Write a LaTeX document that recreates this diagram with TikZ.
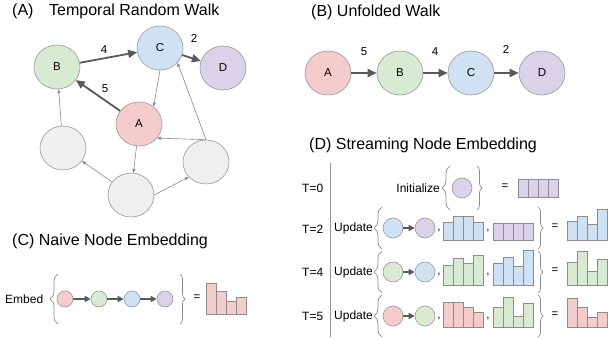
\documentclass[tikz,border=0pt]{standalone}
\usepackage{fontspec}
\setmainfont{Liberation Sans}
\usetikzlibrary{arrows.meta,shapes.geometric,decorations.pathreplacing}
\definecolor{pinkF}{HTML}{F4CCCC}
\definecolor{greenF}{HTML}{D9EAD3}
\definecolor{blueF}{HTML}{CFE2F3}
\definecolor{purpF}{HTML}{D9D2E9}
\definecolor{grayF}{HTML}{EFEFEF}
\definecolor{ndraw}{HTML}{999999}
\definecolor{arrowC}{HTML}{595959}
\definecolor{thinC}{HTML}{8A8A8A}
\definecolor{barD}{HTML}{8C8C8C}
\newcommand{\barset}[4]{%
  \foreach \h [count=\i from 0] in {#4} {\draw[barstyle, fill=#3] ({#1+\i*10},#2) rectangle ++(10,-\h);}}
\begin{document}
\begin{tikzpicture}[x=1pt,y=-1pt,
  bignode/.style={ellipse, draw=ndraw, line width=0.6pt, minimum width=46pt, minimum height=44pt, inner sep=0pt, font=\fontsize{11.5}{13}\selectfont},
  smallnode/.style={circle, draw=ndraw, line width=0.6pt, minimum size=20pt, inner sep=0pt},
  tinynode/.style={circle, draw=ndraw, line width=0.6pt, minimum size=16pt, inner sep=0pt},
  title/.style={anchor=west, inner sep=0pt, font=\fontsize{16}{19}\selectfont},
  lbl/.style={inner sep=0pt, font=\fontsize{11.5}{13}\selectfont},
  rowlbl/.style={inner sep=0pt, font=\fontsize{12}{14}\selectfont},
  thick arrow/.style={draw=arrowC, line width=1.8pt, -{Triangle[length=9pt,width=8pt]}},
  thin arrow/.style={draw=thinC, line width=0.6pt, -{Triangle[length=4pt,width=3pt]}},
  mini arrow/.style={draw=arrowC, line width=1.5pt, -{Triangle[length=6pt,width=6pt]}},
  barstyle/.style={draw=barD, line width=0.6pt},
  lbrace/.style={draw=thinC, line width=0.7pt, decorate, decoration={brace, amplitude=8pt}},
  rbrace/.style={draw=thinC, line width=0.7pt, decorate, decoration={brace, amplitude=5pt}},
]
\useasboundingbox (0,0) rectangle (608,339);

% ---------- (A) ----------
\node[title] (tA1) at (12,11) {(A)};
\node[title] (tA2) at (49,11) {Temporal Random Walk};
\node[bignode, fill=greenF] (aB) at (57,67) {B};
\node[bignode, fill=blueF] (aC) at (160,48) {C};
\node[bignode, fill=purpF] (aD) at (223,68) {D};
\node[bignode, fill=pinkF] (aA) at (139,124) {A};
\node[bignode, fill=grayF] (gL) at (63,148) {};
\node[bignode, fill=grayF] (gB) at (131,195) {};
\node[bignode, fill=grayF] (gR) at (206,162) {};
\draw[thick arrow] (aB) -- (aC);
\draw[thick arrow] (aA) -- (aB);
\draw[thick arrow] (aC) -- (aD);
\draw[thin arrow] (aC.south) -- (aA.50);
\draw[thin arrow] (gL) -- (aB);
\draw[thin arrow] (aA) -- (gB);
\draw[thin arrow] (gB) -- (gL);
\draw[thin arrow] (gB.east) -- (gR.221);
\draw[thin arrow] (gR.north) -- (aA.-38);
\draw[thin arrow] (gR.north) -- (aC.-40);
\node[lbl] (l4) at (104,50) {4};
\node[lbl] (l5) at (105,89) {5};
\node[lbl] (l2) at (194,38) {2};

% ---------- (B) ----------
\node[title] (tB) at (311,12) {(B) Unfolded Walk};
\node[bignode, fill=pinkF] (bA) at (328,73) {A};
\node[bignode, fill=greenF] (bB) at (400,73) {B};
\node[bignode, fill=blueF] (bC) at (471,73) {C};
\node[bignode, fill=purpF] (bD) at (542,73) {D};
\draw[thick arrow] (bA) -- (bB);
\draw[thick arrow] (bB) -- (bC);
\draw[thick arrow] (bC) -- (bD);
\node[lbl] (b5) at (364,52) {5};
\node[lbl] (b4) at (435,52) {4};
\node[lbl] (b2) at (506,49) {2};

% ---------- (C) ----------
\node[title] (tC) at (12,241) {(C) Naive Node Embedding};
\node[rowlbl, anchor=west] (embed) at (5,299) {Embed};
\draw[lbrace] (58,324) -- (58,274);
\node[tinynode, fill=pinkF] (c1) at (65,299) {};
\node[tinynode, fill=greenF] (c2) at (99,299) {};
\node[tinynode, fill=blueF] (c3) at (132,299) {};
\node[tinynode, fill=purpF] (c4) at (165,299) {};
\draw[mini arrow] (c1) -- (c2);
\draw[mini arrow] (c2) -- (c3);
\draw[mini arrow] (c3) -- (c4);
\draw[rbrace] (180,274) -- (180,324);
\node[lbl] (ceq) at (197,298) {=};
\barset{206}{314}{pinkF}{31,23,13,17}

% ---------- (D) ----------
\node[title] (tD) at (309,145) {(D) Streaming Node Embedding};
\coordinate (vtop) at (330,163);
\coordinate (vbot) at (330,337);
\draw[draw=ndraw, line width=0.8pt] (vtop) -- (vbot);
\node[rowlbl, anchor=west] (t0) at (302,188) {T=0};
\node[rowlbl, anchor=west] (t2) at (302,229) {T=2};
\node[rowlbl, anchor=west] (t4) at (302,272) {T=4};
\node[rowlbl, anchor=west] (t5) at (302,316) {T=5};

% T=0
\node[rowlbl, anchor=east] (init) at (440,188) {Initialize};
\draw[lbrace] (450,210) -- (450,166);
\node[smallnode, fill=purpF] (d0) at (462,188) {};
\draw[rbrace] (477,166) -- (477,210);
\node[lbl] (eq0) at (505,187) {=};
\barset{518}{197}{purpF}{18,18,18,18}

% T=2
\node[rowlbl, anchor=west] (u2) at (334,228) {Update};
\draw[lbrace] (382,249) -- (382,207);
\node[smallnode, fill=blueF] (d2a) at (393,228) {};
\node[smallnode, fill=purpF] (d2b) at (425,228) {};
\draw[mini arrow] (d2a) -- (d2b);
\node[lbl] (cm2a) at (439,231) {,};
\barset{443}{240}{blueF}{18,24,24,18}
\node[lbl] (cm2b) at (488,231) {,};
\barset{493}{240}{purpF}{17,17,17,17}
\draw[rbrace] (538,207) -- (538,249);
\node[lbl] (eq2) at (555,227) {=};
\barset{567}{240}{blueF}{19,24,16,31}

% T=4
\node[rowlbl, anchor=west] (u4) at (334,272) {Update};
\draw[lbrace] (382,293) -- (382,251);
\node[smallnode, fill=greenF] (d4a) at (393,272) {};
\node[smallnode, fill=blueF] (d4b) at (425,272) {};
\draw[mini arrow] (d4a) -- (d4b);
\node[lbl] (cm4a) at (439,275) {,};
\barset{443}{285}{greenF}{20,27,22,30}
\node[lbl] (cm4b) at (488,275) {,};
\barset{493}{285}{blueF}{22,28,19,35}
\draw[rbrace] (538,251) -- (538,293);
\node[lbl] (eq4) at (555,271) {=};
\barset{567}{285}{greenF}{23,34,14,26}

% T=5
\node[rowlbl, anchor=west] (u5) at (334,316) {Update};
\draw[lbrace] (382,337) -- (382,295);
\node[smallnode, fill=pinkF] (d5a) at (393,316) {};
\node[smallnode, fill=greenF] (d5b) at (425,316) {};
\draw[mini arrow] (d5a) -- (d5b);
\node[lbl] (cm5a) at (439,319) {,};
\barset{443}{327}{pinkF}{25,25,20,15}
\node[lbl] (cm5b) at (488,319) {,};
\barset{493}{327}{greenF}{20,30,11,24}
\draw[rbrace] (538,295) -- (538,337);
\node[lbl] (eq5) at (555,315) {=};
\barset{567}{327}{pinkF}{29,20,10,15}
\end{tikzpicture}
\end{document}
